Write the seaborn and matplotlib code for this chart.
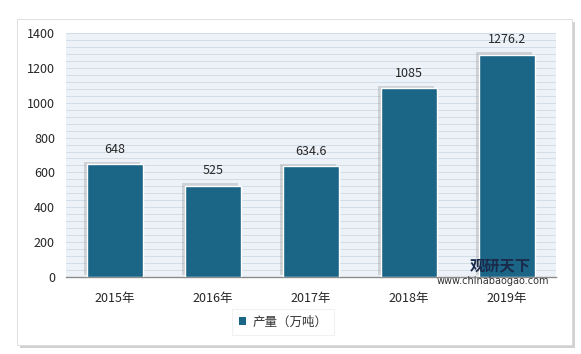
import matplotlib
matplotlib.use("Agg")
import matplotlib.pyplot as plt
import matplotlib.patheffects as pe
from matplotlib.patches import Rectangle
import seaborn as sns
import pandas as pd

years = ["2015年", "2016年", "2017年", "2018年", "2019年"]
output = [648, 525, 634.6, 1085, 1276.2]
value_labels = ["648", "525", "634.6", "1085", "1276.2"]
series_name = "产量（万吨）"

sns.set_theme(style="white")
plt.rcParams["font.family"] = ["Noto Sans CJK SC", "DejaVu Sans"]

df = pd.DataFrame({"year": years, "value": output})

fig = plt.figure(figsize=(5.81, 3.54), dpi=100)
fig.patch.set_facecolor("white")

# outer frame with soft shadow
frame = Rectangle((17 / 581, 1 - 345 / 354), 555 / 581, 326 / 354,
                  transform=fig.transFigure, facecolor="white", edgecolor="#d9d9d9",
                  linewidth=0.6, zorder=-10)
frame.set_path_effects([pe.SimplePatchShadow(offset=(2.5, -2.5), shadow_rgbFace="#9a9a9a", alpha=0.45),
                        pe.Normal()])
fig.patches.append(frame)

ax = fig.add_axes([66 / 581, 1 - 277 / 354, 490 / 581, 244 / 354])
ax.set_zorder(1)
ax.set_facecolor("#ecf2f8")

sns.barplot(data=df, x="year", y="value", color="#1b6587", saturation=1,
            width=0.57, edgecolor="white", linewidth=1.0, ax=ax, zorder=3)

for bar in ax.patches:
    bar.set_path_effects([pe.SimplePatchShadow(offset=(-2, 1.5), shadow_rgbFace="#8a8a8a", alpha=0.3),
                          pe.Normal()])

ax.bar_label(ax.containers[0], labels=value_labels, padding=6, fontsize=9, color="#262626")

ax.set_ylim(0, 1400)
ax.set_yticks(range(0, 1401, 200))
ax.set_yticks(range(0, 1401, 40), minor=True)
ax.yaxis.grid(True, which="both", color="#d3dde7", linewidth=0.7, zorder=0)
ax.set_axisbelow(True)
ax.set_xlim(-0.5, 4.5)

for s in ["top", "right", "left"]:
    ax.spines[s].set_visible(False)
ax.spines["bottom"].set_color("#8c8c8c")
ax.spines["bottom"].set_linewidth(1.0)

ax.tick_params(axis="y", which="both", length=0, labelsize=9, labelcolor="#262626", pad=8)
ax.tick_params(axis="x", length=0, labelsize=9, labelcolor="#262626", pad=11)
ax.set_xlabel("")
ax.set_ylabel("")

# legend
handle = Rectangle((0, 0), 1, 1, facecolor="#1b6587", edgecolor="none")
leg = fig.legend([handle], [series_name], loc="center", bbox_to_anchor=(283 / 581, 1 - 322 / 354),
                 frameon=True, fontsize=9, handlelength=0.6, handleheight=0.6, handletextpad=0.5,
                 borderpad=0.5, fancybox=False)
leg.get_frame().set_edgecolor("#eeeeee")
leg.get_frame().set_linewidth(0.8)
for t in leg.get_texts():
    t.set_color("#333333")

# watermark
fig.text(470 / 581, 1 - 265 / 354, "观研天下", fontsize=11, fontweight="bold", color="#1b2a4a",
         ha="left", va="center", zorder=5)
fig.text(437 / 581, 1 - 281 / 354, "www.chinabaogao.com", fontsize=7, color="#333333",
         ha="left", va="center", family=["DejaVu Sans"], zorder=5)

fig.savefig("out.png", dpi=100, facecolor="white")
